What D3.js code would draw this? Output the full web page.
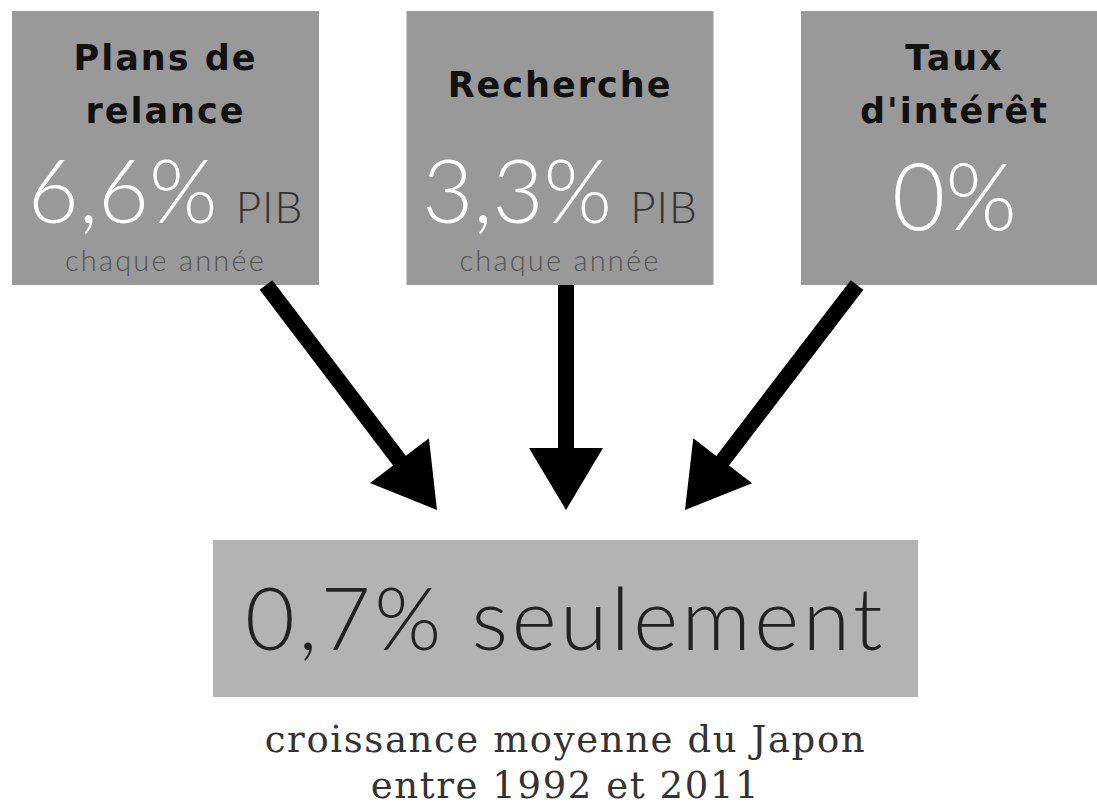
<!DOCTYPE html>
<html>
<head>
<meta charset="utf-8">
<script src="https://cdn.jsdelivr.net/npm/d3@7"></script>
<style>
  html, body { margin: 0; padding: 0; background: #fff; }
  svg { display: block; }
</style>
</head>
<body>
<svg id="canvas" width="1097" height="806"></svg>
<script>
/* -------------------- 1. DATA --------------------------------------- */
const causes    = ["relance", "recherche", "taux"];
const titles    = [["Plans de", "relance"], ["Recherche"], ["Taux", "d'intérêt"]];
const values    = ["6,6%", "3,3%", "0%"];
const units     = ["PIB", "PIB", ""];
const subtitles = ["chaque année", "chaque année", ""];
const result    = "0,7% seulement";
const caption   = ["croissance moyenne du Japon", "entre 1992 et 2011"];

/* -------------------- 2. GEOMETRY ----------------------------------- */
const BOX_W = 307, BOX_Y = 11, BOX_H = 274;
const RES_X = 213, RES_Y = 540, RES_W = 705, RES_H = 157;
const SHAFT = 16, HEAD_L = 62, HEAD_W = 74;

const svg = d3.select("#canvas");

// box centres along x
const x = d3.scalePoint().domain(causes).range([165.5, 954.5]);
// where each arrow leaves its box and where it lands above the result box
const startX = d3.scaleOrdinal().domain(causes).range([266, 566, 857]);
const tipX   = d3.scaleOrdinal().domain(causes).range([437, 566, 685]);
const TIP_Y = 510;

/* -------------------- 3. TOP BOXES ---------------------------------- */
const g = svg.selectAll("g.cause")
  .data(causes)
  .join("g")
    .attr("class", "cause")
    .attr("transform", d => `translate(${x(d)},0)`);

g.append("rect")
  .attr("x", -BOX_W / 2).attr("y", BOX_Y)
  .attr("width", BOX_W).attr("height", BOX_H)
  .attr("fill", "#999");

g.each(function(d, i){
  const t = titles[i];
  const el = d3.select(this);
  const y0 = t.length === 2 ? 70 : 97;
  t.forEach((line, j) => {
    el.append("text")
      .attr("x", 0).attr("y", y0 + j * 53)
      .attr("text-anchor", "middle")
      .attr("font-family", "'DejaVu Sans', sans-serif")
      .attr("font-weight", 700)
      .attr("font-size", 35)
      .attr("letter-spacing", 2)
      .attr("fill", "#111")
      .text(line);
  });

  const big = el.append("text")
    .attr("y", i === 2 ? 230 : 223)
    .attr("text-anchor", "middle")
    .attr("font-family", "Lato, sans-serif")
    .attr("font-weight", 300);
  big.append("tspan")
    .attr("font-size", i === 2 ? 92 : 88)
    .attr("fill", "#fff")
    .text(values[i]);
  if (units[i]) {
    big.append("tspan")
      .attr("dx", 18)
      .attr("font-size", 44)
      .attr("letter-spacing", 1)
      .attr("fill", "#333")
      .text(units[i]);
  }

  if (subtitles[i]) {
    el.append("text")
      .attr("y", 271)
      .attr("text-anchor", "middle")
      .attr("font-family", "Lato, sans-serif")
      .attr("font-weight", 300)
      .attr("font-size", 29)
      .attr("letter-spacing", 2.2)
      .attr("fill", "#555")
      .text(subtitles[i]);
  }
});

/* -------------------- 4. ARROWS ------------------------------------- */
function arrow(d){
  const x0 = startX(d), y0 = BOX_Y + BOX_H, x1 = tipX(d), y1 = TIP_Y;
  const len = Math.hypot(x1 - x0, y1 - y0);
  const ux = (x1 - x0) / len, uy = (y1 - y0) / len, px = -uy, py = ux;
  const bx = x1 - ux * HEAD_L, by = y1 - uy * HEAD_L;
  const s = SHAFT / 2, h = HEAD_W / 2;
  const pts = [
    [x0 + px * s, y0 + py * s],
    [bx + px * s, by + py * s],
    [bx + px * h, by + py * h],
    [x1, y1],
    [bx - px * h, by - py * h],
    [bx - px * s, by - py * s],
    [x0 - px * s, y0 - py * s]
  ];
  return d3.line()(pts) + "Z";
}

svg.append("g").attr("class", "arrows")
  .selectAll("path")
  .data(causes)
  .join("path")
    .attr("d", arrow)
    .attr("fill", "#000");

/* -------------------- 5. RESULT BOX --------------------------------- */
svg.append("rect")
  .attr("x", RES_X).attr("y", RES_Y)
  .attr("width", RES_W).attr("height", RES_H)
  .attr("fill", "#b3b3b3");

svg.append("text")
  .attr("x", RES_X + RES_W / 2).attr("y", 650)
  .attr("text-anchor", "middle")
  .attr("font-family", "Lato, sans-serif")
  .attr("font-weight", 300)
  .attr("font-size", 86)
  .attr("letter-spacing", 3.5)
  .attr("fill", "#222")
  .text(result);

svg.selectAll("text.caption")
  .data(caption)
  .join("text")
    .attr("class", "caption")
    .attr("x", RES_X + RES_W / 2)
    .attr("y", (d, i) => 752 + i * 46)
    .attr("text-anchor", "middle")
    .attr("font-family", "'DejaVu Serif', serif")
    .attr("font-size", 37)
    .attr("letter-spacing", 1.6)
    .attr("fill", "#333")
    .text(d => d);
</script>
</body>
</html>
